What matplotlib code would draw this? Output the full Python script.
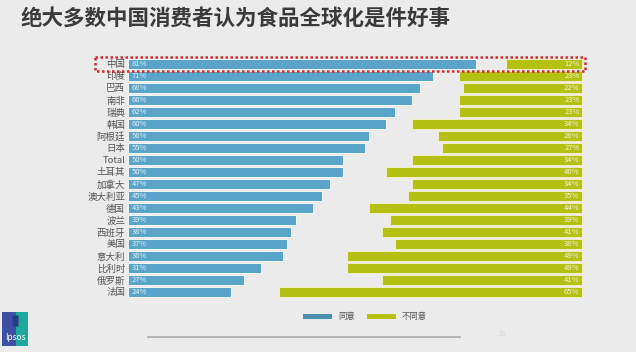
import matplotlib
matplotlib.use('Agg')
import matplotlib.pyplot as plt
from matplotlib.patches import Rectangle, FancyBboxPatch

plt.rcParams['font.family'] = ['Noto Sans CJK SC', 'DejaVu Sans']

# data
countries = ['中国', '印度', '巴西', '南非', '瑞典', '韩国', '阿根廷', '日本', 'Total', '土耳其',
             '加拿大', '澳大利亚', '德国', '波兰', '西班牙', '美国', '意大利', '比利时', '俄罗斯', '法国']
agree = [81, 71, 68, 66, 62, 60, 56, 55, 50, 50, 47, 45, 43, 39, 38, 37, 36, 31, 27, 24]
disagree = [12, 23, 22, 23, 23, 34, 28, 27, 34, 40, 34, 35, 44, 39, 41, 38, 49, 49, 41, 65]

title = '绝大多数中国消费者认为食品全球化是件好事'
legend_labels = ['同意', '不同意']

blue = '#5ba4c9'
green = '#b4c112'
label_pad = 5.6  # extra room at the right end of the disagree bars for the labels

W, H = 636, 352
fig = plt.figure(figsize=(W / 100, H / 100), dpi=100)
fig.patch.set_facecolor('#ebebeb')

# soft glare at the top-left like the slide background
bg = fig.add_axes([0, 0, 1, 1], zorder=-5)
bg.axis('off')
bg.set_xlim(0, W)
bg.set_ylim(H, 0)
for i in range(12):
    bg.add_patch(plt.Circle((60, 40), 280 - i * 20, color='white', alpha=0.045, lw=0))

# main bar axes: 0% at x=128px, 4.3 px per %
x0 = 128
scale = 4.3
xmax = 110
top, bottom = 58, 298
ax = fig.add_axes([x0 / W, 1 - bottom / H, xmax * scale / W, (bottom - top) / H])
ax.set_facecolor('none')
ypos = list(range(len(countries)))
ax.barh(ypos, agree, height=0.78, color=blue, edgecolor='white', linewidth=0.6)
left = [100 - d for d in disagree]
widths = [d + label_pad for d in disagree]
ax.barh(ypos, widths, left=left, height=0.78, color=green, edgecolor='#f6f2cf', linewidth=0.6)

for y, a, d in zip(ypos, agree, disagree):
    ax.text(0.8, y, f'{a}%', va='center', ha='left', fontsize=5.5, color='#e2f1f8')
    ax.text(100 + label_pad - 0.6, y, f'{d}%', va='center', ha='right', fontsize=5.5, color='#f4f3d6')

ax.set_xlim(0, xmax)
ax.set_ylim(len(countries) - 0.5, -0.5)
ax.set_yticks(ypos)
ax.set_yticklabels(countries, fontsize=6.8, color='#555555')
ax.tick_params(axis='y', length=0, pad=2)
ax.set_xticks([])
for s in ax.spines.values():
    s.set_visible(False)

# dotted red highlight around China
ax.add_patch(Rectangle((-7.7, -0.56), 114, 1.12, fill=False, ec='#d42a2a', lw=1.8,
                       ls=(0, (1, 1)), clip_on=False, zorder=5))

# title
fig.text(20 / W, 1 - 19 / H, title, fontsize=15.5, fontweight='bold', color='#3a3a3a',
         va='center', ha='left')

# legend
lg = fig.add_axes([0, 0, 1, 1], zorder=2)
lg.axis('off')
lg.set_xlim(0, W)
lg.set_ylim(H, 0)
lg.add_patch(Rectangle((303, 314), 29, 5, color='#4a8fb0', lw=0))
lg.text(338, 317, legend_labels[0], fontsize=6, color='#555555', va='center')
lg.add_patch(Rectangle((367, 314), 29, 5, color=green, lw=0))
lg.text(402, 317, legend_labels[1], fontsize=6, color='#555555', va='center')
lg.plot([148, 460], [337, 337], color='#a8a8a8', lw=1.2)
lg.text(499, 334, '29', fontsize=5, color='#d8d8d8', va='center')

# Ipsos logo
lg.add_patch(Rectangle((2, 312), 26, 34, color='#3d4fa3', lw=0))
lg.add_patch(Rectangle((16, 312), 12, 34, color='#1ea79c', lw=0))
lg.add_patch(FancyBboxPatch((13, 316), 5, 10, boxstyle='round,pad=0.5', color='#2a3b85', lw=0))
lg.text(15, 337, 'Ipsos', fontsize=6, color='white', ha='center', va='center')

fig.savefig('out.png', dpi=100, facecolor=fig.get_facecolor())
